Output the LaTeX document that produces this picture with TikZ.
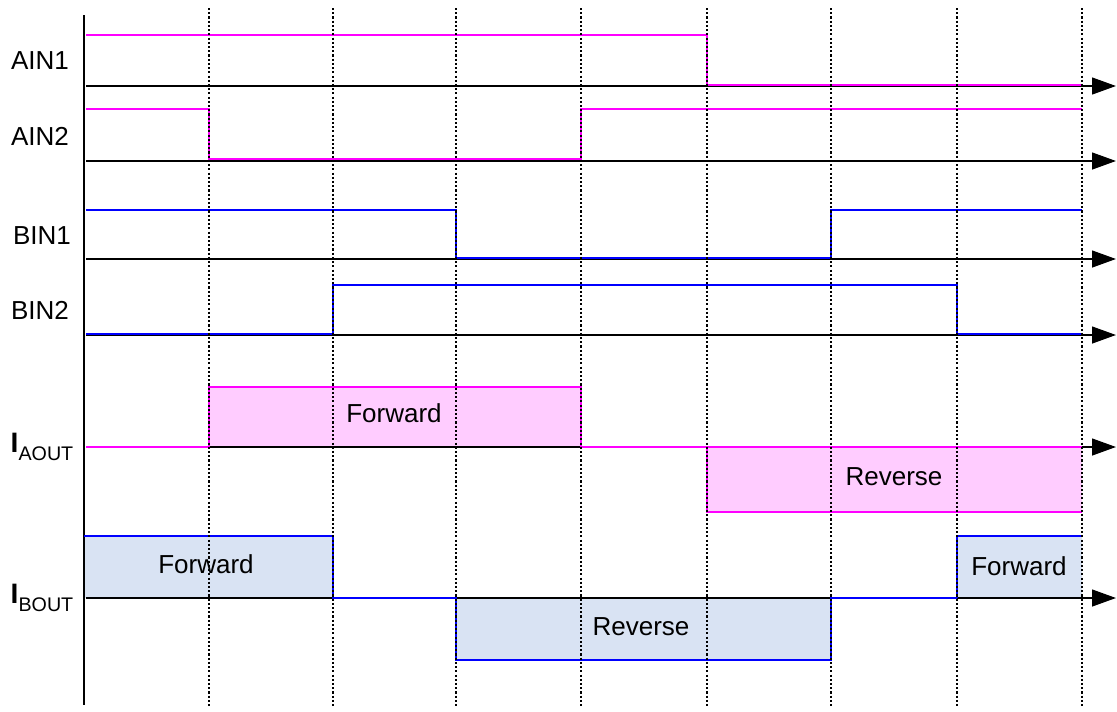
\documentclass[tikz,border=0pt]{standalone}
\usepackage{fontspec}
\setmainfont{Liberation Sans}
\usetikzlibrary{arrows.meta}
\definecolor{sigA}{RGB}{255,0,255}
\definecolor{sigB}{RGB}{0,0,255}
\definecolor{fillA}{RGB}{255,204,255}
\definecolor{fillB}{RGB}{217,227,243}
\newcommand{\Isub}[1]{{\fontsize{20}{20}\selectfont\bfseries I}\raisebox{-0.3em}{\fontsize{14}{14}\selectfont #1}}

\begin{document}
\begin{tikzpicture}[x=0.025cm, y=-0.025cm,
	axis/.style={black, line width=1.4pt, -{Triangle[length=0.6cm, width=0.42cm]}},
	lineA/.style={sigA, line width=1.6pt},
	lineB/.style={sigB, line width=1.6pt},
	tick/.style={black, line width=1.3pt, dash pattern=on 1.5pt off 1.5pt},
	lbl/.style={font=\fontsize{18.5}{20}\selectfont, anchor=center}]
	\useasboundingbox (0,0) rectangle (1117,711);
	% shaded current pulses
	\fill[fillA] (209,387) rectangle (581,447);
	\fill[fillA] (707,447) rectangle (1082,512);
	\fill[fillB] (84,536) rectangle (333,598);
	\fill[fillB] (456,598) rectangle (831,660);
	\fill[fillB] (957,536) rectangle (1082,598);
	% axes
	\draw[black, line width=1.4pt] (84,15) -- (84,705);
	\foreach \y in {86,161,259,335,447,598}
		\draw[axis] (86,\y) -- (1116,\y);
	% logic inputs
	\draw[lineA] (86,35) -- (707,35) -- (707,85) -- (1082,85);
	\draw[lineA] (86,109) -- (209,109) -- (209,159) -- (581,159) -- (581,109) -- (1082,109);
	\draw[lineB] (86,210) -- (456,210) -- (456,258) -- (831,258) -- (831,210) -- (1082,210);
	\draw[lineB] (86,334) -- (333,334) -- (333,285) -- (957,285) -- (957,334) -- (1082,334);
	% output currents
	\draw[lineA] (86,447) -- (209,447) -- (209,387) -- (581,387) -- (581,447) -- (1082,447);
	\draw[lineA] (707,447) -- (707,512) -- (1082,512);
	\draw[lineB] (84,536) -- (333,536) -- (333,598) -- (456,598) -- (456,660) -- (831,660) -- (831,598) -- (957,598);
	\draw[lineB] (957,598) -- (957,536) -- (1082,536);
	% time marks
	\foreach \x in {209,333,456,581,707,831,957,1082}
		\draw[tick] (\x,8) -- (\x,708);
	% labels
	\node[lbl] (ain1) at (40,61) {AIN1};
	\node[lbl] (ain2) at (40,136) {AIN2};
	\node[lbl] (bin1) at (42,236) {BIN1};
	\node[lbl] (bin2) at (40,310) {BIN2};
	\node[lbl] (iaout) at (42,447) {\Isub{AOUT}};
	\node[lbl] (ibout) at (42,598) {\Isub{BOUT}};
	\node[lbl] (fwdA) at (394,413) {Forward};
	\node[lbl] (revA) at (894,477) {Reverse};
	\node[lbl] (fwdB) at (206,564) {Forward};
	\node[lbl] (revB) at (641,627) {Reverse};
	\node[lbl] (fwdBB) at (1019,566) {Forward};
\end{tikzpicture}
\end{document}
